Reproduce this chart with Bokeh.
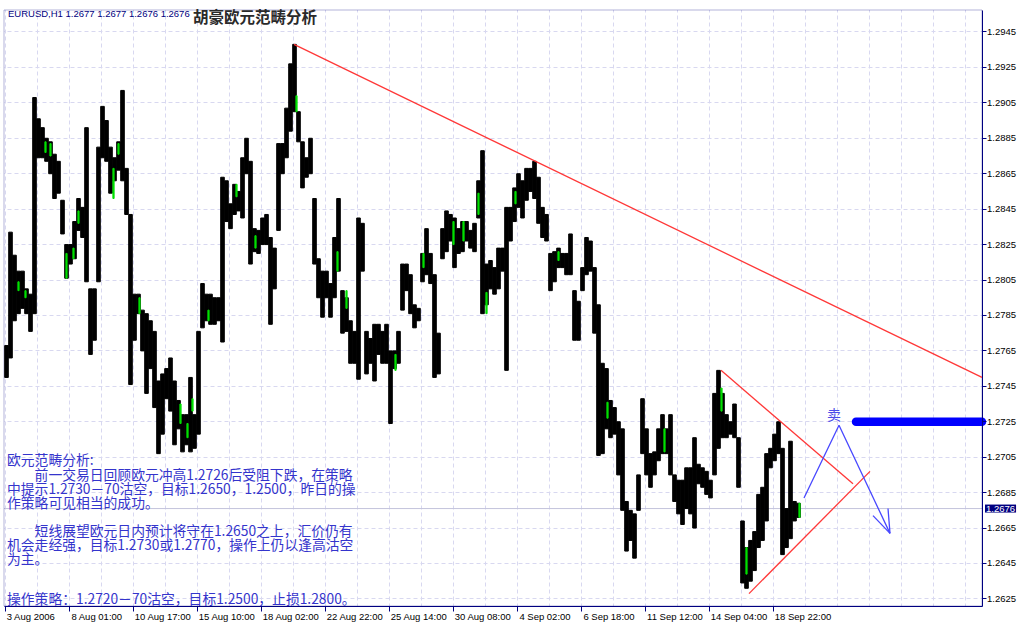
from bokeh.plotting import figure
from bokeh.models import FixedTicker, Span, Label, ColumnDataSource, BoxAnnotation
from bokeh.embed import file_html
from bokeh.resources import INLINE
from bokeh.core.properties import value

# ---------------- data (EURUSD H1, 4-hour bins) -------------
bin_hours = 4
high = [1.2768,1.2832,1.2819,1.2810,1.2810,1.2800,1.2797,1.2908,1.2896,1.2891,
        1.2885,1.2883,1.2876,1.2872,1.2850,1.2825,1.2825,1.2838,1.2851,1.2846,
        1.2891,1.2800,1.2800,1.2880,1.2903,1.2895,1.2880,1.2874,1.2883,1.2912,
        1.2868,1.2842,1.2797,1.2797,1.2788,1.2786,1.2782,1.2776,1.2748,1.2752,
        1.2755,1.2761,1.2748,1.2737,1.2729,1.2729,1.2750,1.2729,1.2776,1.2803,
        1.2797,1.2797,1.2795,1.2795,1.2863,1.2861,1.2848,1.2859,1.2855,1.2874,
        1.2885,1.2872,1.2834,1.2833,1.2840,1.2842,1.2829,1.2823,1.2882,1.2882,
        1.2902,1.2927,1.2938,1.2900,1.2883,1.2874,1.2885,1.2851,1.2817,1.2810,
        1.2810,1.2803,1.2829,1.2851,1.2799,1.2795,1.2782,1.2776,1.2840,1.2837,
        1.2776,1.2772,1.2780,1.2780,1.2776,1.2780,1.2765,1.2765,1.2776,1.2814,
        1.2814,1.2808,1.2791,1.2789,1.2820,1.2834,1.2820,1.2808,1.2775,1.2834,
        1.2844,1.2842,1.2840,1.2834,1.2838,1.2838,1.2833,1.2837,1.2861,1.2878,
        1.2814,1.2816,1.2812,1.2823,1.2823,1.2846,1.2846,1.2857,1.2865,1.2861,
        1.2868,1.2868,1.2872,1.2863,1.2846,1.2842,1.2820,1.2821,1.2823,1.2820,
        1.2820,1.2831,1.2799,1.2793,1.2812,1.2829,1.2827,1.2812,1.2791,1.2758,
        1.2755,1.2737,1.2733,1.2725,1.2721,1.2680,1.2675,1.2673,1.2695,1.2738,
        1.2721,1.2707,1.2708,1.2721,1.2729,1.2721,1.2729,1.2695,1.2692,1.2692,
        1.2699,1.2699,1.2716,1.2701,1.2699,1.2697,1.2692,1.2741,1.2754,1.2741,
        1.2729,1.2725,1.2735,1.2716,1.2669,1.2654,1.2658,1.2663,1.2684,1.2688,
        1.2707,1.2710,1.2718,1.2725,1.2710,1.2676,1.2714,1.2680,1.2679]
low = [1.2750,1.2761,1.2782,1.2786,1.2789,1.2786,1.2776,1.2786,1.2874,1.2874,
       1.2872,1.2865,1.2851,1.2854,1.2831,1.2806,1.2814,1.2817,1.2833,1.2829,
       1.2804,1.2763,1.2771,1.2804,1.2874,1.2872,1.2854,1.2861,1.2867,1.2861,
       1.2842,1.2746,1.2771,1.2786,1.2765,1.2741,1.2755,1.2733,1.2707,1.2718,
       1.2738,1.2731,1.2712,1.2721,1.2708,1.2712,1.2708,1.2710,1.2718,1.2778,
       1.2782,1.2780,1.2780,1.2782,1.2770,1.2838,1.2834,1.2842,1.2844,1.2840,
       1.2865,1.2814,1.2821,1.2820,1.2825,1.2825,1.2780,1.2800,1.2833,1.2865,
       1.2874,1.2889,1.2900,1.2883,1.2857,1.2863,1.2865,1.2814,1.2795,1.2784,
       1.2795,1.2784,1.2795,1.2810,1.2775,1.2776,1.2758,1.2758,1.2749,1.2810,
       1.2752,1.2758,1.2748,1.2763,1.2758,1.2758,1.2724,1.2755,1.2758,1.2788,
       1.2799,1.2786,1.2778,1.2782,1.2804,1.2808,1.2803,1.2750,1.2752,1.2817,
       1.2821,1.2827,1.2812,1.2820,1.2821,1.2827,1.2823,1.2821,1.2840,1.2786,
       1.2791,1.2800,1.2797,1.2800,1.2810,1.2754,1.2827,1.2838,1.2846,1.2840,
       1.2850,1.2855,1.2851,1.2837,1.2829,1.2827,1.2799,1.2804,1.2812,1.2812,
       1.2808,1.2808,1.2771,1.2771,1.2799,1.2808,1.2810,1.2775,1.2706,1.2707,
       1.2721,1.2716,1.2718,1.2695,1.2675,1.2652,1.2658,1.2648,1.2675,1.2707,
       1.2695,1.2688,1.2695,1.2703,1.2707,1.2707,1.2695,1.2680,1.2673,1.2667,
       1.2676,1.2673,1.2665,1.2690,1.2688,1.2684,1.2682,1.2695,1.2710,1.2716,
       1.2716,1.2718,1.2716,1.2688,1.2634,1.2631,1.2635,1.2641,1.2654,1.2658,
       1.2669,1.2699,1.2703,1.2707,1.2650,1.2654,1.2659,1.2669,1.2671]

green_bar = [13, 20, 40, 45, 61, 68, 73, 108, 113, 134, 175, 182, 187, 203, 231, 250,
             291, 332, 341, 390, 418, 448, 458, 473, 481, 510, 553, 602, 659, 716, 741, 794]
green_high = [1.2804,1.2799,1.2883,1.2882,1.2820,1.2823,1.2844,1.2868,1.2882,1.2795,1.2735,
              1.2724,1.2738,1.2788,1.2859,1.2830,1.2909,1.2821,1.2799,1.2763,1.2820,1.2838,
              1.2838,1.2854,1.2798,1.2855,1.2821,1.2736,1.2721,1.2744,1.2654,1.2679]
green_low = [1.2799,1.2795,1.2877,1.2875,1.2806,1.2817,1.2837,1.2851,1.2876,1.2786,1.2724,
             1.2716,1.2731,1.2782,1.2852,1.2823,1.2900,1.2810,1.2789,1.2754,1.2812,1.2825,
             1.2827,1.2842,1.2786,1.2848,1.2816,1.2727,1.2708,1.2731,1.2639,1.2671]

last_price = 1.2676
header_text = "EURUSD,H1  1.2677 1.2677 1.2676 1.2676"
title_text = "胡豪欧元范畴分析"

x_tick_bars = [0, 64, 128, 192, 256, 320, 384, 448, 512, 576, 640, 704, 768]
x_tick_labels = ["3 Aug 2006", "8 Aug 01:00", "10 Aug 17:00", "15 Aug 10:00", "18 Aug 02:00",
                 "22 Aug 22:00", "25 Aug 14:00", "30 Aug 08:00", "4 Sep 02:00", "6 Sep 18:00",
                 "11 Sep 12:00", "14 Sep 04:00", "18 Sep 22:00"]
y_ticks = [1.2625, 1.2645, 1.2665, 1.2685, 1.2705, 1.2725, 1.2745, 1.2765, 1.2785,
           1.2805, 1.2825, 1.2845, 1.2865, 1.2885, 1.2905, 1.2925, 1.2945]
y_tick_labels = ["%.4f" % t for t in y_ticks]

# chart window (bar index / price) shown by the terminal
chart_first, chart_last = -1, 977
price_min, price_max = 1.26210, 1.29574

# analyst drawings (bar index, price)
trend_main_x, trend_main_y = [289, 977], [1.2938, 1.2750]
tri_up_x, tri_up_y = [716, 848], [1.2754, 1.2690]
tri_lo_x, tri_lo_y = [744, 865], [1.2628, 1.2697]
arrow_x, arrow_y = [799, 834, 885], [1.2682, 1.2723, 1.2662]
head1_x, head1_y = [868, 885], [1.2672, 1.2662]
head2_x, head2_y = [883, 885], [1.2676, 1.2662]
target_x, target_y = [851, 977], [1.2725, 1.2725]
sell_x, sell_y, sell_text = 829, 1.27294, "卖"

note_lines = ["欧元范畴分析:",
              "　　前一交易日回顾欧元冲高1.2726后受阻下跌，在策略",
              "中提示1.2730－70沽空，目标1.2650，1.2500，昨日的操",
              "作策略可见相当的成功。",
              "　　短线展望欧元日内预计将守在1.2650之上，汇价仍有",
              "机会走经强，目标1.2730或1.2770，操作上仍以逢高沽空",
              "为主。",
              "操作策略：1.2720－70沽空，目标1.2500，止损1.2800。"]
note_y = [1.27040, 1.26955, 1.26876, 1.26797, 1.26639, 1.26560, 1.26481, 1.26255]

# ---------------- figure ------------------------------------------------------------
NAVY = "#000080"
W, H = 1020, 628
PX = (price_max - price_min) / 596.0          # price per pixel
x_lo = chart_first - 3.5
y_hi = price_max + 9.5 * PX
p = figure(frame_width=W, frame_height=H, x_range=(x_lo, x_lo + W), y_range=(y_hi - H * PX, y_hi),
           y_axis_location="right", toolbar_location=None, output_backend="svg",
           min_border=0, background_fill_color="white", border_fill_color="white")
p.outline_line_color = None

FONT = "Liberation Sans"
FS = "9.5px"

# y axis (drawn at the right edge of the chart window)
ya = p.yaxis[0]
ya.fixed_location = chart_last
ya.bounds = (price_min, price_max)
ya.ticker = FixedTicker(ticks=y_ticks)
ya.major_label_overrides = dict(zip(y_ticks, y_tick_labels))
ya.major_tick_out = 4
ya.major_tick_in = 0
ya.major_label_standoff = 1
ya.minor_tick_line_color = None

# x axis: tick marks as minor ticks, labels left-aligned next to them like the terminal
CHAR_W = {c: 0.556 for c in "0123456789"}
CHAR_W.update({" ": 0.278, ":": 0.278, "A": 0.667, "S": 0.667, "u": 0.556, "g": 0.556,
               "e": 0.556, "p": 0.556})
def text_width(s, size=9.5):
    return sum(CHAR_W.get(c, 0.556) for c in s) * size
label_pos = [int(round(t + 2 + text_width(s) / 2)) for t, s in zip(x_tick_bars, x_tick_labels)]

xa = p.xaxis[0]
xa.fixed_location = price_min
xa.bounds = (chart_first, chart_last)
xa.ticker = FixedTicker(ticks=label_pos, minor_ticks=x_tick_bars)
xa.major_label_overrides = dict(zip(label_pos, x_tick_labels))
xa.major_tick_line_color = None
xa.major_tick_out = 0
xa.major_tick_in = 0
xa.minor_tick_line_color = NAVY
xa.minor_tick_out = 5
xa.minor_tick_in = 0
xa.major_label_standoff = 0

for ax in (xa, ya):
    ax.axis_line_color = NAVY
    ax.major_label_text_font = FONT
    ax.major_label_text_font_size = FS
    ax.major_label_text_color = "black"
ya.major_tick_line_color = NAVY

# grid
p.xgrid.ticker = FixedTicker(ticks=list(range(0, chart_last, 32)))
p.ygrid.ticker = FixedTicker(ticks=y_ticks)
for g in (p.xgrid, p.ygrid):
    g.grid_line_color = "#d8d8f0"
    g.grid_line_dash = "4 3"
    g.grid_line_width = 1

p.add_layout(Span(location=last_price, dimension="width", line_color="#c4c4dc",
                  line_width=1, level="underlay"))
# keep grid inside the chart window
for kw in (dict(left=chart_last), dict(right=chart_first), dict(bottom=price_max), dict(top=price_min)):
    p.add_layout(BoxAnnotation(fill_color="white", fill_alpha=1, line_color=None,
                               level="underlay", **kw))
p.add_layout(BoxAnnotation(left=chart_first, right=chart_last, bottom=price_min, top=price_max,
                           fill_color=None, line_color=NAVY, line_width=1, level="underlay"))

# price bars
src = ColumnDataSource(dict(x=[i * bin_hours + bin_hours / 2 - 0.5 for i in range(len(high))],
                            top=high, bottom=low))
p.vbar(x="x", top="top", bottom="bottom", width=3.6, source=src, color="black")
p.vbar(x=[b + 0.5 for b in green_bar], top=green_high, bottom=green_low, width=1.2,
       color="#00e000")

# drawings
RED = "#ff3838"
p.line(trend_main_x, trend_main_y, line_color=RED, line_width=1.3)
p.line(tri_up_x, tri_up_y, line_color=RED, line_width=1.3)
p.line(tri_lo_x, tri_lo_y, line_color=RED, line_width=1.3)
BLUE = "#4848ff"
p.line(arrow_x, arrow_y, line_color=BLUE, line_width=1.3)
p.line(head1_x, head1_y, line_color=BLUE, line_width=1.3)
p.line(head2_x, head2_y, line_color=BLUE, line_width=1.3)
p.line(target_x, target_y, line_color="#0000ff", line_width=8.5, line_cap="round")
p.text(x=[sell_x], y=[sell_y], text=[sell_text], text_color="#4c4ce8",
       text_font=value("Noto Sans CJK SC"), text_font_size="14px",
       text_align="center", text_baseline="middle")

# header texts
p.text(x=[3], y=[1.29552], text=[header_text], text_color=NAVY,
       text_font=value(FONT), text_font_size="9.5px",
       text_align="left", text_baseline="middle")
p.text(x=[188], y=[1.29538], text=[title_text], text_color="#2a2a2a",
       text_font=value("Noto Sans CJK SC"), text_font_size="15.5px", text_font_style="bold",
       text_align="left", text_baseline="middle")

# notes
p.text(x=[2] * len(note_lines), y=note_y, text=note_lines, text_color="#3434cc",
       text_font=value("Noto Sans CJK SC"), text_font_size="13.8px",
       text_align="left", text_baseline="middle")

# current price tag on the axis
p.add_layout(Label(x=chart_last + 3, y=last_price, text="%.4f" % last_price, text_color="white",
                   text_font=FONT, text_font_size=FS,
                   text_align="left", text_baseline="middle",
                   background_fill_color=NAVY, padding=1))

open("out.html", "w").write(file_html(p, INLINE))
